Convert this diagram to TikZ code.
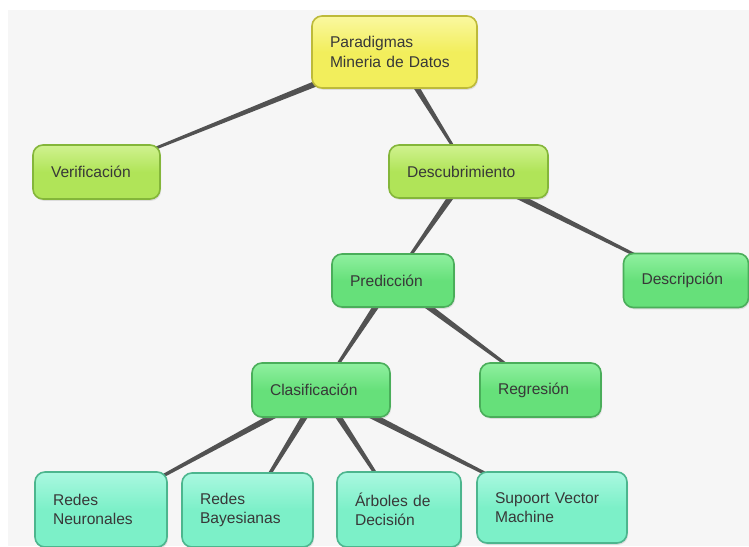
\documentclass[tikz,border=0pt]{standalone}
\usepackage{fontspec}
\setmainfont{Liberation Sans}
\usetikzlibrary{calc,shadows}
\definecolor{bgc}{HTML}{F6F6F6}
\definecolor{linec}{HTML}{525252}
\definecolor{txt}{HTML}{383838}
\definecolor{yF}{HTML}{F2EE5C}\definecolor{yT}{HTML}{FAF8A0}\definecolor{yB}{HTML}{BDBA3A}
\definecolor{lF}{HTML}{B0E458}\definecolor{lT}{HTML}{D0F290}\definecolor{lB}{HTML}{84B63A}
\definecolor{gF}{HTML}{66E07A}\definecolor{gT}{HTML}{90F0A0}\definecolor{gB}{HTML}{4AAE5A}
\definecolor{aF}{HTML}{7CF0C8}\definecolor{aT}{HTML}{AAF8E0}\definecolor{aB}{HTML}{4CB68E}
\newcommand\tline[2]{%
  \fill[linec] ($(#1)!3.6pt!90:(#2)$) -- ($(#1)!3.6pt!-90:(#2)$)
     -- ($(#2)!0.9pt!90:(#1)$) -- ($(#2)!0.9pt!-90:(#1)$) -- cycle;}
\tikzset{
  box/.style={rectangle, rounded corners=10pt, line width=1.6pt, align=left,
    inner xsep=18pt, inner ysep=0pt, text=txt,
    font=\fontsize{15.6}{19.5}\selectfont,
    drop shadow={opacity=0.22, shadow xshift=1pt, shadow yshift=-1.8pt}},
  ybox/.style={box, draw=yB, top color=yT, bottom color=yF, middle color=yF},
  lbox/.style={box, draw=lB, top color=lT, bottom color=lF, middle color=lF},
  gbox/.style={box, draw=gB, top color=gT, bottom color=gF, middle color=gF},
  abox/.style={box, draw=aB, top color=aT, bottom color=aF, middle color=aF},
}
\begin{document}
\begin{tikzpicture}[x=1pt,y=-1pt]
\useasboundingbox (0,0) rectangle (749,546);
\fill[white] (0,0) rectangle (749,546);
\fill[bgc] (8,10) rectangle (749,546);
% node positions
\coordinate (cP) at (394.5,52);
\coordinate (cV) at (96.5,172);
\coordinate (cD) at (468.5,171.5);
\coordinate (cPr) at (393,280.5);
\coordinate (cDe) at (686,280.5);
\coordinate (cC) at (321,390);
\coordinate (cR) at (540.5,390);
\coordinate (cN) at (101,509.5);
\coordinate (cB) at (247.5,510);
\coordinate (cA) at (399,509.5);
\coordinate (cS) at (552,507.5);
% connectors (behind nodes)
\tline{cP}{cV}
\tline{cP}{cD}
\tline{cD}{cPr}
\tline{cD}{cDe}
\tline{cPr}{cC}
\tline{cPr}{cR}
\tline{cC}{cN}
\tline{cC}{cB}
\tline{cC}{cA}
\tline{cC}{cS}
% nodes
\node[ybox, text width=129pt, minimum height=72pt] (P) at (cP) {Paradigmas\\Mineria de Datos};
\node[lbox, text width=91pt, minimum height=54pt] (V) at (cV) {Verificación};
\node[lbox, text width=123pt, minimum height=53pt] (D) at (cD) {Descubrimiento};
\node[gbox, text width=86pt, minimum height=53pt] (Pr) at (cPr) {Predicción};
\node[gbox, text width=89pt, minimum height=54pt] (De) at (cDe) {Descripción};
\node[gbox, text width=102pt, minimum height=54pt] (C) at (cC) {Clasificación};
\node[gbox, text width=85pt, minimum height=54pt] (R) at (cR) {Regresión};
\node[abox, text width=96pt, minimum height=75pt] (N) at (cN) {Redes\\Neuronales};
\node[abox, text width=95pt, minimum height=74pt] (B) at (cB) {Redes\\Bayesianas};
\node[abox, text width=88pt, minimum height=75pt] (A) at (cA) {Árboles de\\Decisión};
\node[abox, text width=114pt, minimum height=71pt] (S) at (cS) {Supoort Vector\\Machine};
\end{tikzpicture}
\end{document}
